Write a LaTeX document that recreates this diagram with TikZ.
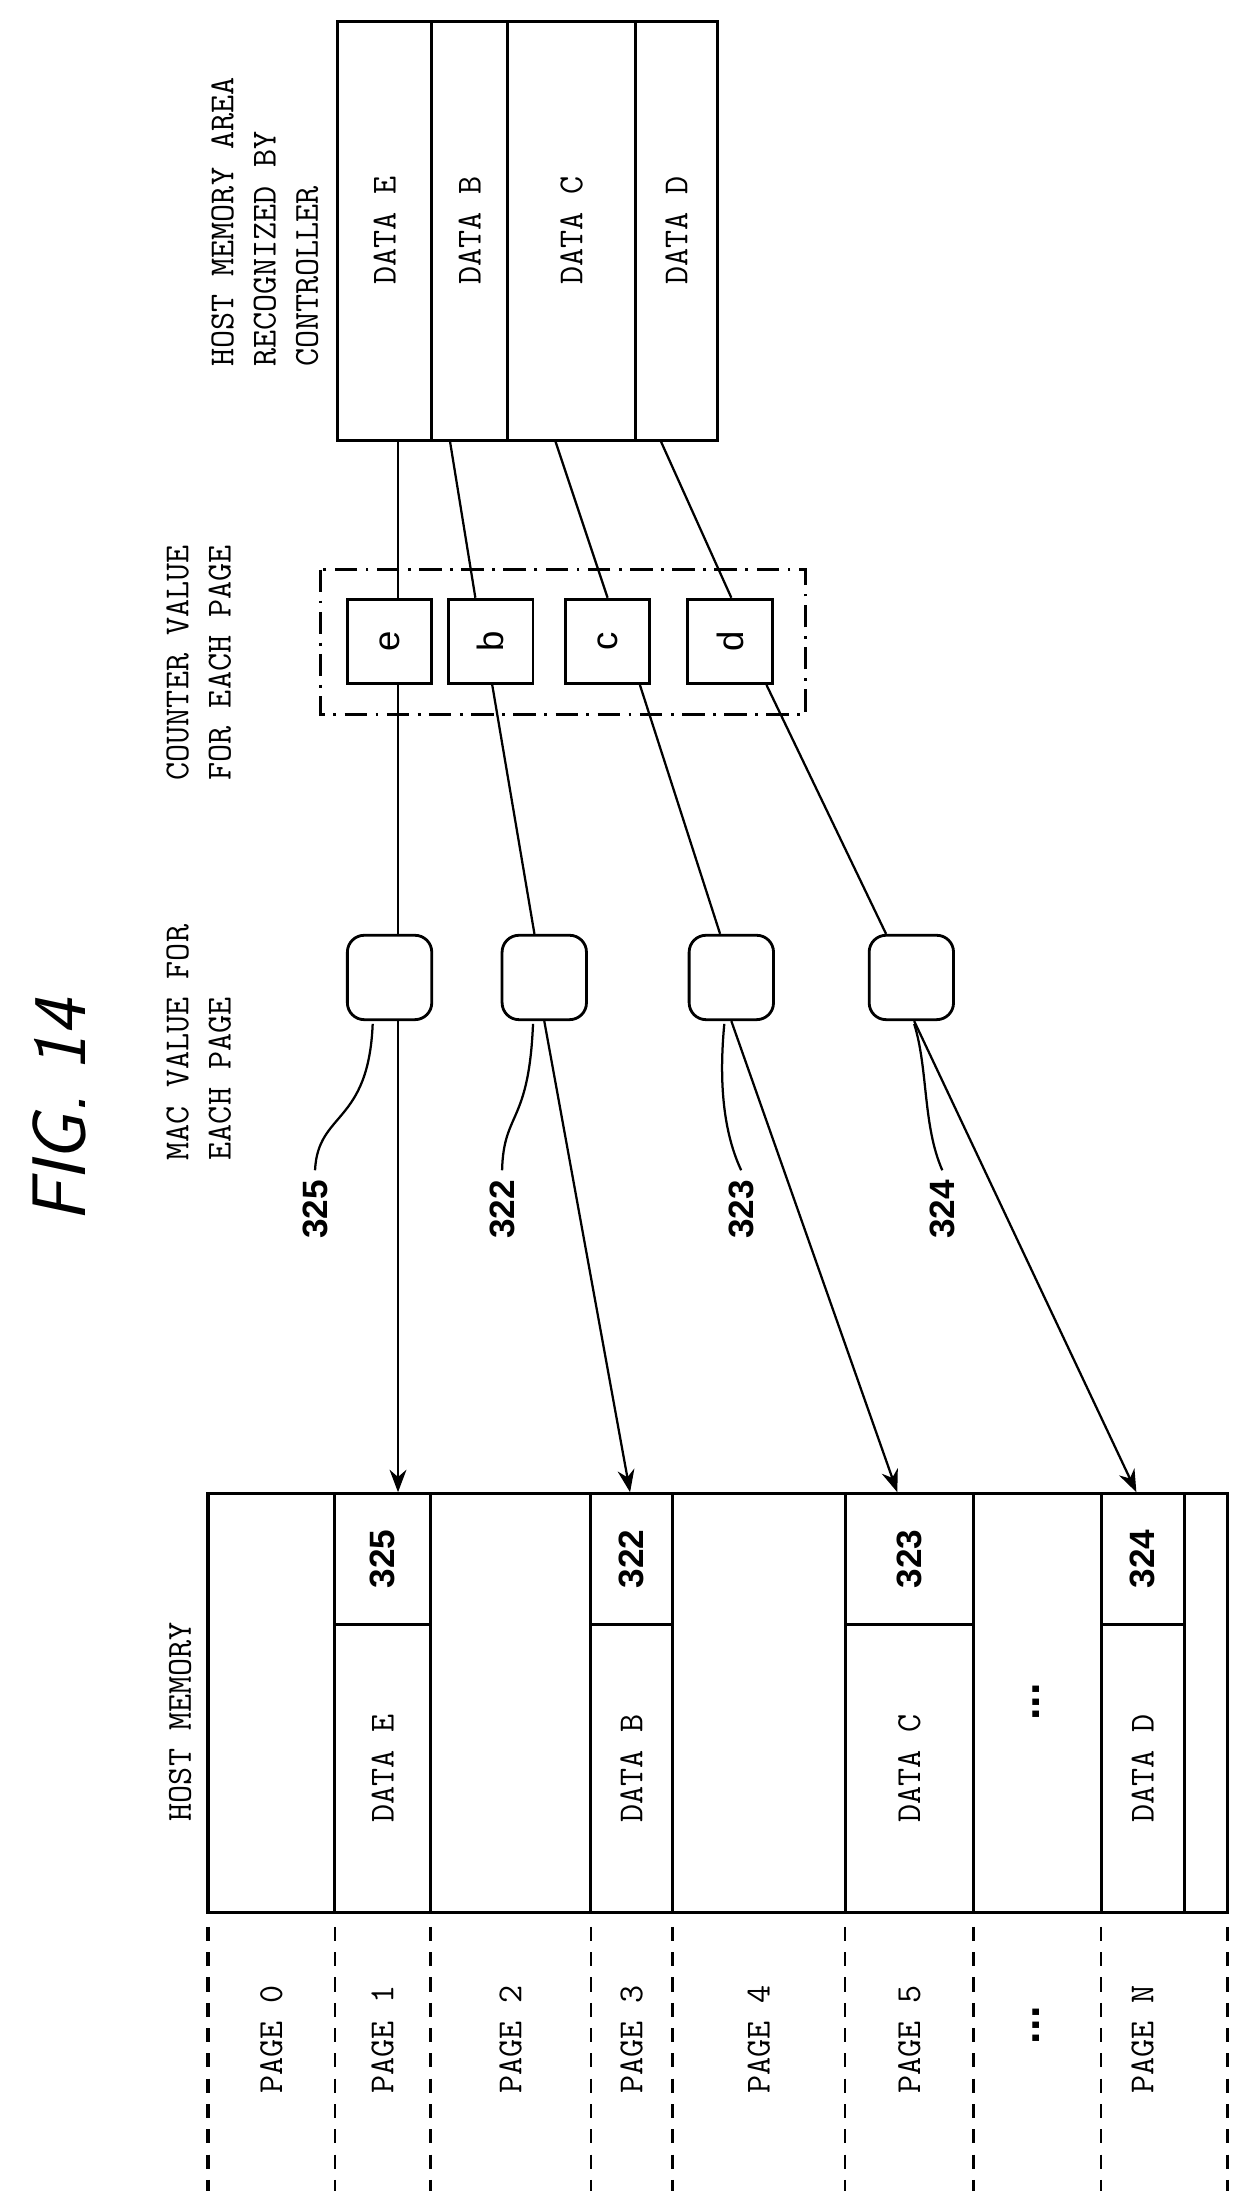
\documentclass[tikz,border=0pt]{standalone}
\usepackage{fontspec}
\newfontfamily\numfont{Liberation Sans}
\usetikzlibrary{positioning,calc,arrows.meta}
\newcommand\mono{\ttfamily\fontsize{12.5}{15}\selectfont\addfontfeatures{LetterSpace=20}}
\newcommand\rt[1]{\rotatebox{90}{#1}}
\newcommand\rtl[1]{\rotatebox{90}{\begin{tabular}{@{}l@{}}#1\end{tabular}}}
\tikzset{font=\mono,
	cell/.style={draw, line width=1pt, inner sep=0pt},
	val/.style={draw, line width=1pt, minimum width=30pt, minimum height=30pt, inner sep=0pt,
		font=\numfont\fontsize{13}{14}\selectfont},
	mac/.style={val, rounded corners=6pt},
	num/.style={font=\numfont\bfseries\fontsize{12.5}{14}\selectfont},
	link/.style={line width=0.8pt},
	arr/.style={link, -{Stealth[length=8pt, width=6pt]}},
	pg/.style={line width=1.2pt, dash pattern=on 5pt off 4pt}}

\begin{document}
\begin{tikzpicture}[x=0.5pt, y=-0.5pt]
	\useasboundingbox (0,0) rectangle (886,1560);

	\node[font=\sffamily\itshape\fontsize{27}{30}\selectfont] (fig) at (42,790) {\rt{FIG. 14}};

	% host memory area recognized by controller
	\node[anchor=south] (lctl) at (190,268) {\rtl{HOST MEMORY AREA\\RECOGNIZED BY\\CONTROLLER}};
	\node[cell, minimum height=149pt, minimum width=33.5pt] (hE) at (273.5,164) {\rt{DATA E}};
	\node[cell, minimum height=149pt, minimum width=27pt] (hB) at (334,164) {\rt{DATA B}};
	\node[cell, minimum height=149pt, minimum width=45.5pt] (hC) at (406.5,164) {\rt{DATA C}};
	\node[cell, minimum height=149pt, minimum width=29pt] (hD) at (481,164) {\rt{DATA D}};

	% counter values
	\node[anchor=south] (lcnt) at (143,562) {\rtl{COUNTER VALUE\\FOR EACH PAGE}};
	\draw[line width=1pt, dash pattern=on 8pt off 3pt on 1pt off 3pt] (228,405) rectangle (573,508);
	\node[val] (ce) at (277,456) {\rt{e}};
	\node[val] (cb) at (349,456) {\rt{b}};
	\node[val] (cc) at (432,456) {\rt{c}};
	\node[val] (cd) at (519,456) {\rt{d}};

	% mac values
	\node[anchor=south] (lmac) at (143,832) {\rtl{MAC VALUE FOR\\EACH PAGE}};
	\node[mac] (m325) at (277,695) {};
	\node[mac] (m322) at (387,695) {};
	\node[mac] (m323) at (520,695) {};
	\node[mac] (m324) at (648,695) {};

	\node[num] (n325) at (224,860) {\rt{325}};
	\node[num] (n322) at (357,860) {\rt{322}};
	\node[num] (n323) at (527,860) {\rt{323}};
	\node[num] (n324) at (670,860) {\rt{324}};
	\draw[link] (n325.north) .. controls (226,790) and (262,800) .. ($(m325.south)+(-12,2)$);
	\draw[link] (n322.north) .. controls (358,790) and (376,800) .. ($(m322.south)+(-8,2)$);
	\draw[link] (n323.north) .. controls (512,800) and (512,760) .. ($(m323.south)+(-5,2)$);
	\draw[link] (n324.north) .. controls (656,800) and (660,760) .. ($(m324.south)+(2,2)$);

	% host memory
	\node[anchor=south] (lhost) at (128,1302) {\rt{HOST MEMORY}};
	\node[cell, minimum height=102.5pt, minimum width=34pt] (p1d) at (272,1257.5) {\rt{DATA E}};
	\node[cell, minimum height=46.5pt, minimum width=34pt, num] (p1n) at (272,1108.5) {\rt{325}};
	\node[cell, minimum height=102.5pt, minimum width=29pt] (p3d) at (449,1257.5) {\rt{DATA B}};
	\node[cell, minimum height=46.5pt, minimum width=29pt, num] (p3n) at (449,1108.5) {\rt{322}};
	\node[cell, minimum height=102.5pt, minimum width=45.5pt] (p5d) at (646.5,1257.5) {\rt{DATA C}};
	\node[cell, minimum height=46.5pt, minimum width=45.5pt, num] (p5n) at (646.5,1108.5) {\rt{323}};
	\node[cell, minimum height=102.5pt, minimum width=29.5pt] (pNd) at (812.5,1257.5) {\rt{DATA D}};
	\node[cell, minimum height=46.5pt, minimum width=29.5pt, num] (pNn) at (812.5,1108.5) {\rt{324}};
	\draw[line width=1.2pt] (148,1062) rectangle (873,1360);
	\foreach \x in {306,478,692} \draw[line width=1.2pt] (\x,1062) -- (\x,1360);
	\node[num, font=\numfont\bfseries\fontsize{16}{16}\selectfont] (dots1) at (737,1210) {\rt{...}};

	% pages
	\foreach \x in {148,306,478,692,873} \draw[pg] (\x,1370) -- (\x,1558);
	\foreach \x in {238,420,601,783} \draw[pg, line width=0.8pt] (\x,1370) -- (\x,1558);
	\foreach \c/\t in {193/PAGE 0,272/PAGE 1,363/PAGE 2,449/PAGE 3,539.5/PAGE 4,646.5/PAGE 5,812.5/PAGE N}
		\node at (\c,1450) {\rt{\t}};
	\node[num, font=\numfont\bfseries\fontsize{16}{16}\selectfont] (dots2) at (737,1440) {\rt{...}};

	% links
	\draw[link] ($(hE.south)+(9.5,0)$) -- ($(ce.north)+(6,0)$);
	\draw[link] ($(ce.south)+(6,0)$) -- ($(m325.north)+(6,0)$);
	\draw[arr] ($(m325.south)+(6,0)$) -- ($(p1n.north)+(11,0)$);
	\draw[link] ($(hB.south)+(-14,0)$) -- ($(cb.north)+(-11,0)$);
	\draw[link] ($(cb.south)+(1,0)$) -- ($(m322.north)+(-7,0)$);
	\draw[arr] (m322.south) -- ($(p3n.north)+(-1,0)$);
	\draw[link] ($(hC.south)+(-11.5,0)$) -- (cc.north);
	\draw[link] ($(cc.south)+(23,0)$) -- ($(m323.north)+(-8,0)$);
	\draw[arr] (m323.south) -- ($(p5n.north)+(-8.5,0)$);
	\draw[link] ($(hD.south)+(-11,0)$) -- ($(cd.north)+(1,0)$);
	\draw[link] ($(cd.south)+(26,0)$) -- ($(m324.north)+(-18,0)$);
	\draw[arr] ($(m324.south)+(2,0)$) -- ($(pNn.north)+(-4.5,0)$);
\end{tikzpicture}
\end{document}
